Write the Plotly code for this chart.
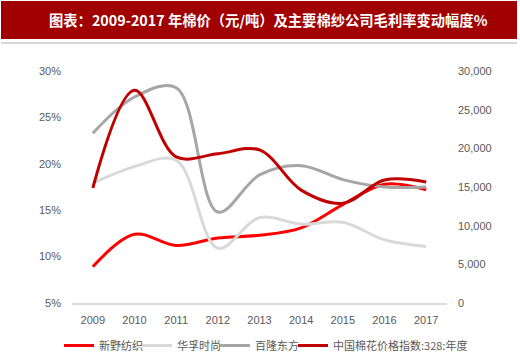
import plotly.graph_objects as go

years = ["2009", "2010", "2011", "2012", "2013", "2014", "2015", "2016", "2017"]
xinye = [8.9, 12.4, 11.2, 12.0, 12.3, 13.1, 15.6, 17.8, 17.2]
huafu = [17.9, 19.7, 20.4, 10.9, 14.2, 13.5, 13.7, 11.8, 11.1]
bailong = [23.3, 27.2, 28.2, 14.8, 18.8, 19.8, 18.3, 17.5, 17.5]
cotton = [14870, 27500, 18900, 19300, 19800, 14600, 12900, 15900, 15650]

names = ["新野纺织", "华孚时尚", "百隆东方", "中国棉花价格指数:328:年度"]
title_text = "图表：2009-2017 年棉价（元/吨）及主要棉纱公司毛利率变动幅度%"

left_ticks = [5, 10, 15, 20, 25, 30]
left_labels = ["5%", "10%", "15%", "20%", "25%", "30%"]
right_ticks = [0, 5000, 10000, 15000, 20000, 25000, 30000]
right_labels = ["0", "5,000", "10,000", "15,000", "20,000", "25,000", "30,000"]

W, H = 520, 357
ml, mr, mt, mb = 72, 73, 71, 54
pw, ph = W - ml - mr, H - mt - mb

fig = go.Figure()
line_shape = dict(shape="spline", smoothing=1.0, width=3)
fig.add_trace(go.Scatter(x=years, y=xinye, name=names[0], mode="lines", legend="legend",
                         line=dict(color="#FF0000", **line_shape)))
fig.add_trace(go.Scatter(x=years, y=huafu, name=names[1], mode="lines", legend="legend2",
                         line=dict(color="#D9D9D9", **line_shape)))
fig.add_trace(go.Scatter(x=years, y=bailong, name=names[2], mode="lines", legend="legend3",
                         line=dict(color="#A6A6A6", **line_shape)))
fig.add_trace(go.Scatter(x=years, y=cotton, name=names[3], mode="lines", yaxis="y2",
                         legend="legend4",
                         line=dict(color="#C00000", **line_shape)))

tickfont = dict(family="Liberation Sans, Arial, sans-serif", size=11, color="#595959")
legfont = dict(family="Noto Sans CJK SC", size=11, color="#595959")

def px_x(x):
    return (x - ml) / pw

def px_y(y):
    return (H - mb - y) / ph

def leg(xpix):
    return dict(orientation="h", x=px_x(xpix), y=px_y(331), xanchor="left", yanchor="top",
                font=legfont, itemwidth=30, tracegroupgap=0, bgcolor="rgba(0,0,0,0)")

fig.update_layout(
    width=W, height=H,
    margin=dict(l=ml, r=mr, t=mt, b=mb, autoexpand=False),
    paper_bgcolor="white", plot_bgcolor="white",
    showlegend=True,
    legend=leg(59), legend2=leg(137), legend3=leg(215), legend4=leg(293),
    xaxis=dict(type="category", showgrid=False, showline=True, linecolor="#D9D9D9",
               linewidth=1.5, ticks="", tickfont=tickfont, zeroline=False,
               range=[-0.5, 8.5], ticklabelstandoff=6),
    yaxis=dict(range=[5, 30], tickvals=left_ticks, ticktext=left_labels, showgrid=False,
               zeroline=False, showline=False, tickfont=tickfont, ticks="", ticklabelstandoff=10),
    yaxis2=dict(range=[0, 30000], tickvals=right_ticks, ticktext=right_labels, overlaying="y",
                side="right", showgrid=False, zeroline=False, showline=False,
                tickfont=tickfont, ticks="", ticklabelstandoff=10),
    shapes=[
        dict(type="rect", xref="paper", yref="paper",
             x0=px_x(1), x1=px_x(517), y0=px_y(39), y1=px_y(1),
             fillcolor="#A00000", line=dict(width=0), layer="below"),
        dict(type="line", xref="paper", yref="paper",
             x0=px_x(1), x1=px_x(517), y0=px_y(43), y1=px_y(43),
             line=dict(color="#C8C8C8", width=1.5)),
    ],
    annotations=[
        dict(text="<b>" + title_text + "</b>", xref="paper", yref="paper",
             x=px_x(268), y=px_y(20), xanchor="center", yanchor="middle", showarrow=False,
             font=dict(family="Noto Sans CJK SC", size=14.3, color="white")),
    ],
)

fig.write_html("out.html", config={"displayModeBar": False},
               post_script="document.body.style.margin='0';")
